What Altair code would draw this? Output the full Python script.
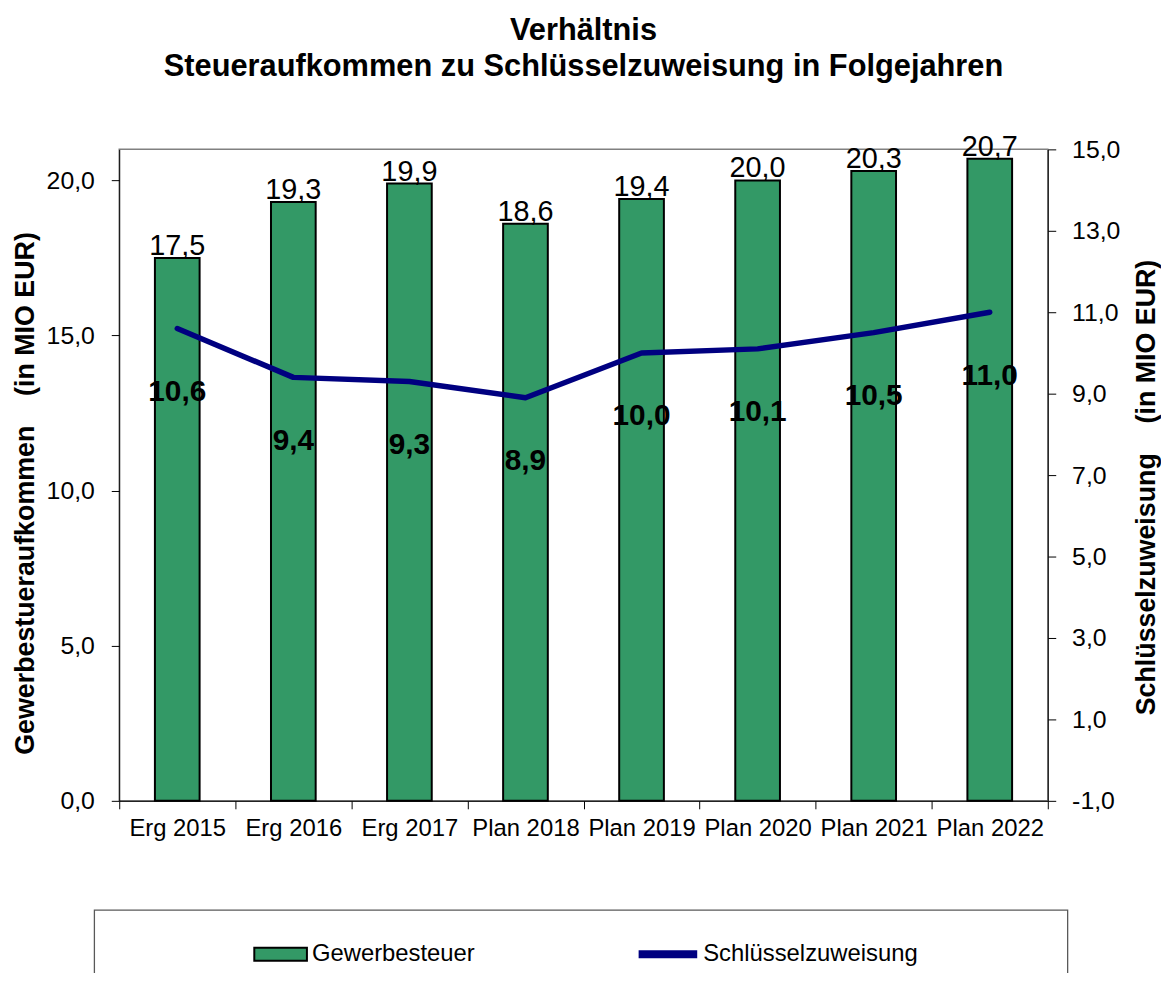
import altair as alt
import pandas as pd

categories = ["Erg 2015", "Erg 2016", "Erg 2017", "Plan 2018",
              "Plan 2019", "Plan 2020", "Plan 2021", "Plan 2022"]
gewerbesteuer = [17.5, 19.3, 19.9, 18.6, 19.4, 20.0, 20.3, 20.7]
schluesselzuweisung = [10.6, 9.4, 9.3, 8.9, 10.0, 10.1, 10.5, 11.0]
left_ticks = [0, 5, 10, 15, 20]
right_ticks = [-1, 1, 3, 5, 7, 9, 11, 13, 15]

FONT = "Liberation Sans"

df = pd.DataFrame({
    "cat": categories,
    "g": gewerbesteuer,
    "s": schluesselzuweisung,
    "serie_g": ["Gewerbesteuer"] * len(categories),
    "serie_s": ["Schlüsselzuweisung"] * len(categories),
})

de_fmt = "replace(replace(format(datum.value,'.1f'),'.',','),'\u2212','-')"

x_enc = alt.X(
    "cat:N", sort=categories,
    scale=alt.Scale(paddingInner=0, paddingOuter=0),
    axis=alt.Axis(title=None, labelAngle=0, labelFontSize=24, labelFont=FONT,
                  labelColor="black", tickBand="extent", tickSize=8,
                  tickColor="black", domainColor="black", labelPadding=8,
                  labelOverlap=False, labelLimit=0, grid=False),
)

y_left = alt.Y(
    "g:Q",
    scale=alt.Scale(domain=[0, 21], nice=False, zero=False),
    axis=alt.Axis(values=left_ticks, labelExpr=de_fmt, labelFontSize=25,
                  labelFont=FONT, labelColor="black", tickSize=8,
                  tickColor="black", domainColor="black", labelPadding=17,
                  grid=False,
                  title="Gewerbestueraufkommen\u00a0\u00a0\u00a0\u00a0(in MIO EUR)",
                  titleFontSize=27, titleFont=FONT, titleFontWeight="bold",
                  titleColor="black", titleAngle=270, titleX=-94, titleY=346,
                  titleAlign="center", titleBaseline="middle"),
)

y_right = alt.Y(
    "s:Q",
    scale=alt.Scale(domain=[-1, 15], nice=False, zero=False),
    axis=alt.Axis(orient="right", values=right_ticks, labelExpr=de_fmt,
                  labelFontSize=25, labelFont=FONT, labelColor="black",
                  tickSize=8, tickColor="black", domainColor="black",
                  labelPadding=16, grid=False,
                  title="Schlüsselzuweisung\u00a0\u00a0\u00a0\u00a0(in MIO EUR)",
                  titleFontSize=27, titleFont=FONT, titleFontWeight="bold",
                  titleColor="black", titleAngle=270, titleX=99, titleY=340,
                  titleAlign="center", titleBaseline="middle"),
)

base = alt.Chart(df).transform_calculate(
    lbl_g="replace(format(datum.g,'.1f'),'.',',')",
    lbl_s="replace(format(datum.s,'.1f'),'.',',')",
)

bars = base.mark_bar(size=45, stroke="black", strokeWidth=2).encode(
    x=x_enc,
    y=y_left,
    fill=alt.Fill(
        "serie_g:N",
        scale=alt.Scale(domain=["Gewerbesteuer"], range=["#339966"]),
        legend=alt.Legend(orient="none", legendX=135, legendY=783, title=None,
                          symbolType="M-1,-0.25H1V0.25H-1Z", symbolSize=2809,
                          symbolStrokeColor="black", symbolStrokeWidth=2,
                          labelFontSize=24, labelFont=FONT, labelColor="black",
                          labelOffset=4, labelLimit=0, padding=0),
    ),
)

bar_text = base.mark_text(fontSize=29, font=FONT, color="black",
                          baseline="alphabetic", dy=-3).encode(
    x=x_enc, y=y_left, text="lbl_g:N")

box = alt.Chart(alt.Data(values=[{"a": 1}])).mark_rect(
    filled=False, stroke="#595959", strokeWidth=1.3
).encode(x=alt.value(-25), x2=alt.value(955), y=alt.value(766), y2=alt.value(900))

line = base.mark_line(strokeWidth=5.5, strokeCap="round", strokeJoin="round").encode(
    x=x_enc,
    y=y_right,
    stroke=alt.Stroke(
        "serie_s:N",
        scale=alt.Scale(domain=["Schlüsselzuweisung"], range=["#000080"]),
        legend=alt.Legend(orient="none", legendX=519, legendY=777, title=None,
                          symbolType="stroke", symbolSize=3481,
                          symbolStrokeWidth=8, labelFontSize=24,
                          labelFont=FONT, labelColor="black", labelOffset=2,
                          labelLimit=0, padding=0),
    ),
)

line_text = base.mark_text(fontSize=30, font=FONT, fontWeight="bold",
                           color="black", baseline="middle", dy=64).encode(
    x=x_enc, y=y_right, text="lbl_s:N")

left = alt.layer(box, bars, bar_text)
right = alt.layer(line, line_text)

chart = alt.layer(left, right).resolve_scale(
    y="independent"
).properties(
    width=935,
    height=656,
    padding={"left": 112, "top": 139, "right": 114, "bottom": 170},
    autosize=alt.AutoSizeParams(type="none"),
    title=alt.TitleParams(
        text=["Verhältnis", "Steueraufkommen zu Schlüsselzuweisung in Folgejahren"],
        fontSize=31, font=FONT, fontWeight="bold", color="black",
        anchor="middle", frame="group", lineHeight=37, offset=50),
).configure_view(stroke="#808080", strokeWidth=1.5)

chart.save("out.html", embed_options={"renderer": "svg", "actions": False})
